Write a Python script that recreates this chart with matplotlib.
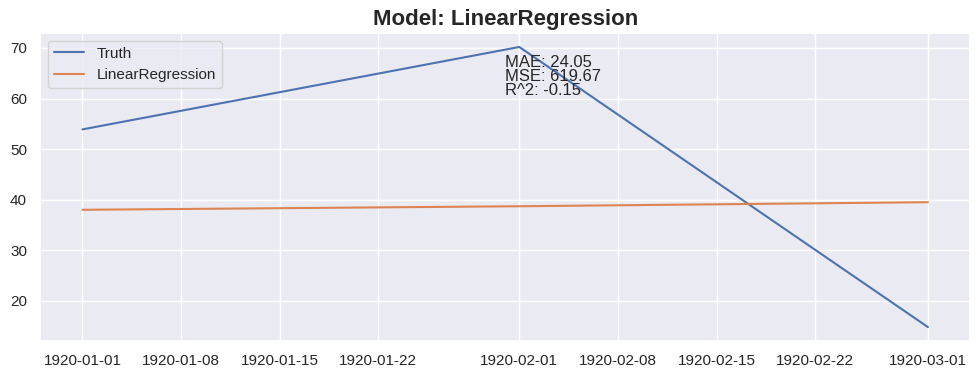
import pandas as pd
import matplotlib
matplotlib.use('Agg')
import matplotlib.pyplot as plt
import seaborn as sns

sns.set_theme()
plt.rcParams['font.family'] = ['Liberation Sans', 'DejaVu Sans']

dates = pd.to_datetime(['1920-01-01', '1920-02-01', '1920-03-01'])
truth = [53.9, 70.2, 14.8]
pred = [38.0, 38.7, 39.5]
model_name = 'LinearRegression'
mae, mse, r2 = 24.05, 619.67, -0.15

fig, ax = plt.subplots(figsize=(9.8, 3.79), dpi=100)
ax.plot(dates, truth, label='Truth')
ax.plot(dates, pred, label=model_name)
ax.set_title('Model: ' + model_name, fontsize=16, fontweight='bold')
ax.text(0.5, 0.93, 'MAE: %.2f\nMSE: %.2f\nR^2: %.2f' % (mae, mse, r2),
        transform=ax.transAxes, ha='left', va='top', fontsize=12, linespacing=0.95)
ax.legend(loc='upper left')
plt.subplots_adjust(left=0.041, right=0.99, top=0.913, bottom=0.10)
plt.savefig('out.png')
